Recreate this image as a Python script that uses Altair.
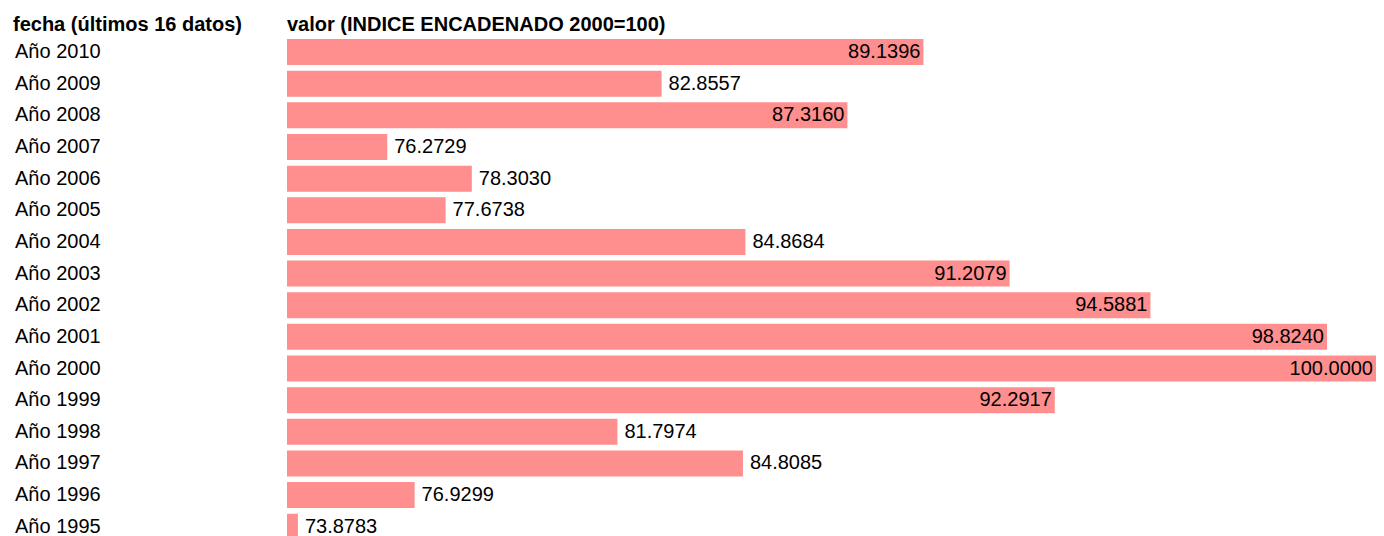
import altair as alt
import pandas as pd

fechas = ["Año 2010", "Año 2009", "Año 2008", "Año 2007", "Año 2006", "Año 2005",
          "Año 2004", "Año 2003", "Año 2002", "Año 2001", "Año 2000", "Año 1999",
          "Año 1998", "Año 1997", "Año 1996", "Año 1995"]
valores = [89.1396, 82.8557, 87.3160, 76.2729, 78.3030, 77.6738,
           84.8684, 91.2079, 94.5881, 98.8240, 100.0000, 92.2917,
           81.7974, 84.8085, 76.9299, 73.8783]
encabezados = ["fecha (últimos 16 datos)", "valor (INDICE ENCADENADO 2000=100)"]

df = pd.DataFrame({"fecha": fechas, "valor": valores})
hdr = pd.DataFrame({"titulo": encabezados, "idx": [0, 1]})

FONT = "Liberation Sans"
FS = 20
D0 = 73.868
COLOR = "#FF8E8E"

xs = alt.Scale(domain=[D0, 100], range=[279, 1368], zero=False, nice=False, padding=0)
ys = alt.Scale(range=[28.2, 534.6], paddingInner=0.1785, paddingOuter=0.0893)
yenc = alt.Y("fecha:N", sort=None, scale=ys, axis=None)

base = alt.Chart(df).transform_calculate(
    fin=f"max(datum.valor, {D0 + 0.262})",
    xstart=f"{D0}",
    dentro="datum.valor > 86",
)

bars = base.mark_bar(color=COLOR).encode(
    x=alt.X("xstart:Q", scale=xs, axis=None),
    x2="fin:Q",
    y=yenc,
)

lbl_in = base.transform_filter("datum.dentro").mark_text(
    align="right", baseline="middle", dx=-3, font=FONT, fontSize=FS, color="#000"
).encode(x=alt.X("fin:Q", scale=xs, axis=None), y=yenc,
         text=alt.Text("valor:Q", format=".4f"))

lbl_out = base.transform_filter("!datum.dentro").mark_text(
    align="left", baseline="middle", dx=7, font=FONT, fontSize=FS, color="#000"
).encode(x=alt.X("fin:Q", scale=xs, axis=None), y=yenc,
         text=alt.Text("valor:Q", format=".4f"))

rows = base.mark_text(
    align="left", baseline="middle", font=FONT, fontSize=FS, color="#000"
).encode(x=alt.value(7), y=yenc, text="fecha:N")

head_a = alt.Chart(hdr).transform_filter("datum.idx == 0").mark_text(
    align="left", baseline="middle", font=FONT, fontSize=FS, fontWeight="bold", color="#000"
).encode(x=alt.value(5), y=alt.value(17), text="titulo:N")

head_b = alt.Chart(hdr).transform_filter("datum.idx == 1").mark_text(
    align="left", baseline="middle", font=FONT, fontSize=FS, fontWeight="bold", color="#000"
).encode(x=alt.value(279), y=alt.value(17), text="titulo:N")

chart = alt.layer(bars, lbl_in, lbl_out, rows, head_a, head_b).properties(
    width=1368, height=528, padding=0, autosize=alt.AutoSizeParams(type="none")
).configure_view(stroke=None)

chart.save("out.html", embed_options={"renderer": "svg", "actions": False})
